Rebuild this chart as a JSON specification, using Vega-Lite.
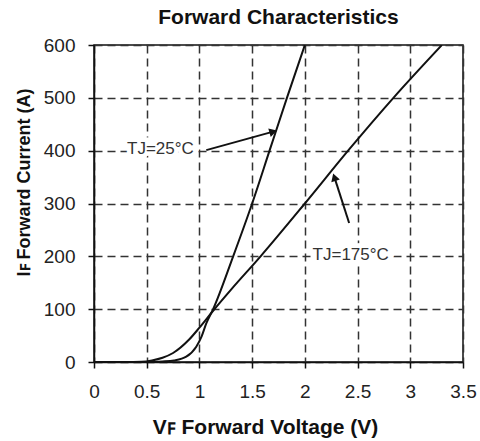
{
  "$schema": "https://vega.github.io/schema/vega-lite/v6.json",
  "autosize": {"type": "none"},
  "width": 369,
  "height": 317,
  "padding": {"left": 94, "top": 45, "right": 17, "bottom": 79},
  "background": "white",
  "title": {
    "text": "Forward Characteristics",
    "font": "Liberation Sans",
    "fontSize": 21,
    "fontWeight": "bold",
    "color": "#111",
    "anchor": "middle",
    "offset": 8
  },
  "config": {
    "view": {"stroke": "#111", "strokeWidth": 1.5},
    "axis": {
      "labelFont": "Liberation Sans",
      "titleFont": "Liberation Sans",
      "labelFontSize": 19,
      "titleFontSize": 20,
      "labelColor": "#222",
      "titleColor": "#111",
      "titleFontWeight": "bold",
      "labelFlush": false,
      "domainColor": "#111",
      "domainWidth": 1.5,
      "tickColor": "#111",
      "tickWidth": 1.5,
      "tickSize": 6,
      "gridColor": "#333",
      "gridDash": [8, 5],
      "gridWidth": 1.5,
      "gridOpacity": 1
    }
  },
  "datasets": {
    "curves": [
      {"series": "25", "voltage": 0, "current": 0},
      {"series": "25", "voltage": 0.5, "current": 0},
      {"series": "25", "voltage": 0.65, "current": 1},
      {"series": "25", "voltage": 0.76, "current": 3},
      {"series": "25", "voltage": 0.875, "current": 10},
      {"series": "25", "voltage": 0.97, "current": 29},
      {"series": "25", "voltage": 1.02, "current": 48},
      {"series": "25", "voltage": 1.065, "current": 73},
      {"series": "25", "voltage": 1.13, "current": 100},
      {"series": "25", "voltage": 1.32, "current": 200},
      {"series": "25", "voltage": 1.5, "current": 300},
      {"series": "25", "voltage": 1.665, "current": 400},
      {"series": "25", "voltage": 1.83, "current": 500},
      {"series": "25", "voltage": 2.0, "current": 600},
      {"series": "175", "voltage": 0, "current": 0},
      {"series": "175", "voltage": 0.3, "current": 0},
      {"series": "175", "voltage": 0.45, "current": 0.5},
      {"series": "175", "voltage": 0.55, "current": 3},
      {"series": "175", "voltage": 0.65, "current": 8},
      {"series": "175", "voltage": 0.75, "current": 17},
      {"series": "175", "voltage": 0.9, "current": 42},
      {"series": "175", "voltage": 1.0, "current": 65},
      {"series": "175", "voltage": 1.13, "current": 97},
      {"series": "175", "voltage": 1.3, "current": 137},
      {"series": "175", "voltage": 1.58, "current": 200},
      {"series": "175", "voltage": 2.0, "current": 300},
      {"series": "175", "voltage": 2.41, "current": 400},
      {"series": "175", "voltage": 2.84, "current": 500},
      {"series": "175", "voltage": 3.3, "current": 600}
    ],
    "labels": [
      {"label": "TJ=25°C", "x": 0.63, "y": 403},
      {"label": "TJ=175°C", "x": 2.435, "y": 203}
    ],
    "arrow25": [{"x": 1.065, "y": 401, "x2": 1.7, "y2": 436}],
    "arrow175": [{"x": 2.42, "y": 263, "x2": 2.28, "y2": 350}]
  },
  "layer": [
    {
      "data": {"name": "curves"},
      "mark": {"type": "line", "color": "#111", "strokeWidth": 2, "interpolate": "monotone", "clip": true},
      "encoding": {
        "x": {
          "field": "voltage", "type": "quantitative",
          "scale": {"domain": [0, 3.5], "nice": false},
          "axis": {"values": [0, 0.5, 1, 1.5, 2, 2.5, 3, 3.5], "format": "~g", "title": "Vꜰ Forward Voltage (V)", "titleFontSize": 21, "labelPadding": 14, "titlePadding": 15, "titleX": 171}
        },
        "y": {
          "field": "current", "type": "quantitative",
          "scale": {"domain": [0, 600], "nice": false},
          "axis": {"values": [0, 100, 200, 300, 400, 500, 600], "title": "Iꜰ Forward Current (A)", "titleFontSize": 18, "labelPadding": 13, "titlePadding": 10, "titleY": 137}
        },
        "detail": {"field": "series"}
      }
    },
    {
      "data": {"name": "labels"},
      "mark": {"type": "text", "font": "Liberation Sans", "fontSize": 17, "color": "white", "stroke": "white", "strokeWidth": 9, "align": "center", "baseline": "middle"},
      "encoding": {
        "x": {"field": "x", "type": "quantitative"},
        "y": {"field": "y", "type": "quantitative"},
        "text": {"field": "label"}
      }
    },
    {
      "data": {"name": "labels"},
      "mark": {"type": "text", "font": "Liberation Sans", "fontSize": 17, "color": "#333", "align": "center", "baseline": "middle"},
      "encoding": {
        "x": {"field": "x", "type": "quantitative"},
        "y": {"field": "y", "type": "quantitative"},
        "text": {"field": "label"}
      }
    },
    {
      "data": {"name": "arrow25"},
      "mark": {"type": "rule", "color": "#111", "strokeWidth": 2},
      "encoding": {
        "x": {"field": "x", "type": "quantitative"},
        "y": {"field": "y", "type": "quantitative"},
        "x2": {"field": "x2"},
        "y2": {"field": "y2"}
      }
    },
    {
      "data": {"name": "arrow25"},
      "mark": {"type": "point", "shape": "triangle-up", "filled": true, "color": "#111", "size": 80, "angle": 74, "opacity": 1},
      "encoding": {
        "x": {"field": "x2", "type": "quantitative"},
        "y": {"field": "y2", "type": "quantitative"}
      }
    },
    {
      "data": {"name": "arrow175"},
      "mark": {"type": "rule", "color": "#111", "strokeWidth": 2},
      "encoding": {
        "x": {"field": "x", "type": "quantitative"},
        "y": {"field": "y", "type": "quantitative"},
        "x2": {"field": "x2"},
        "y2": {"field": "y2"}
      }
    },
    {
      "data": {"name": "arrow175"},
      "mark": {"type": "point", "shape": "triangle-up", "filled": true, "color": "#111", "size": 80, "angle": 342, "opacity": 1},
      "encoding": {
        "x": {"field": "x2", "type": "quantitative"},
        "y": {"field": "y2", "type": "quantitative"}
      }
    }
  ]
}
